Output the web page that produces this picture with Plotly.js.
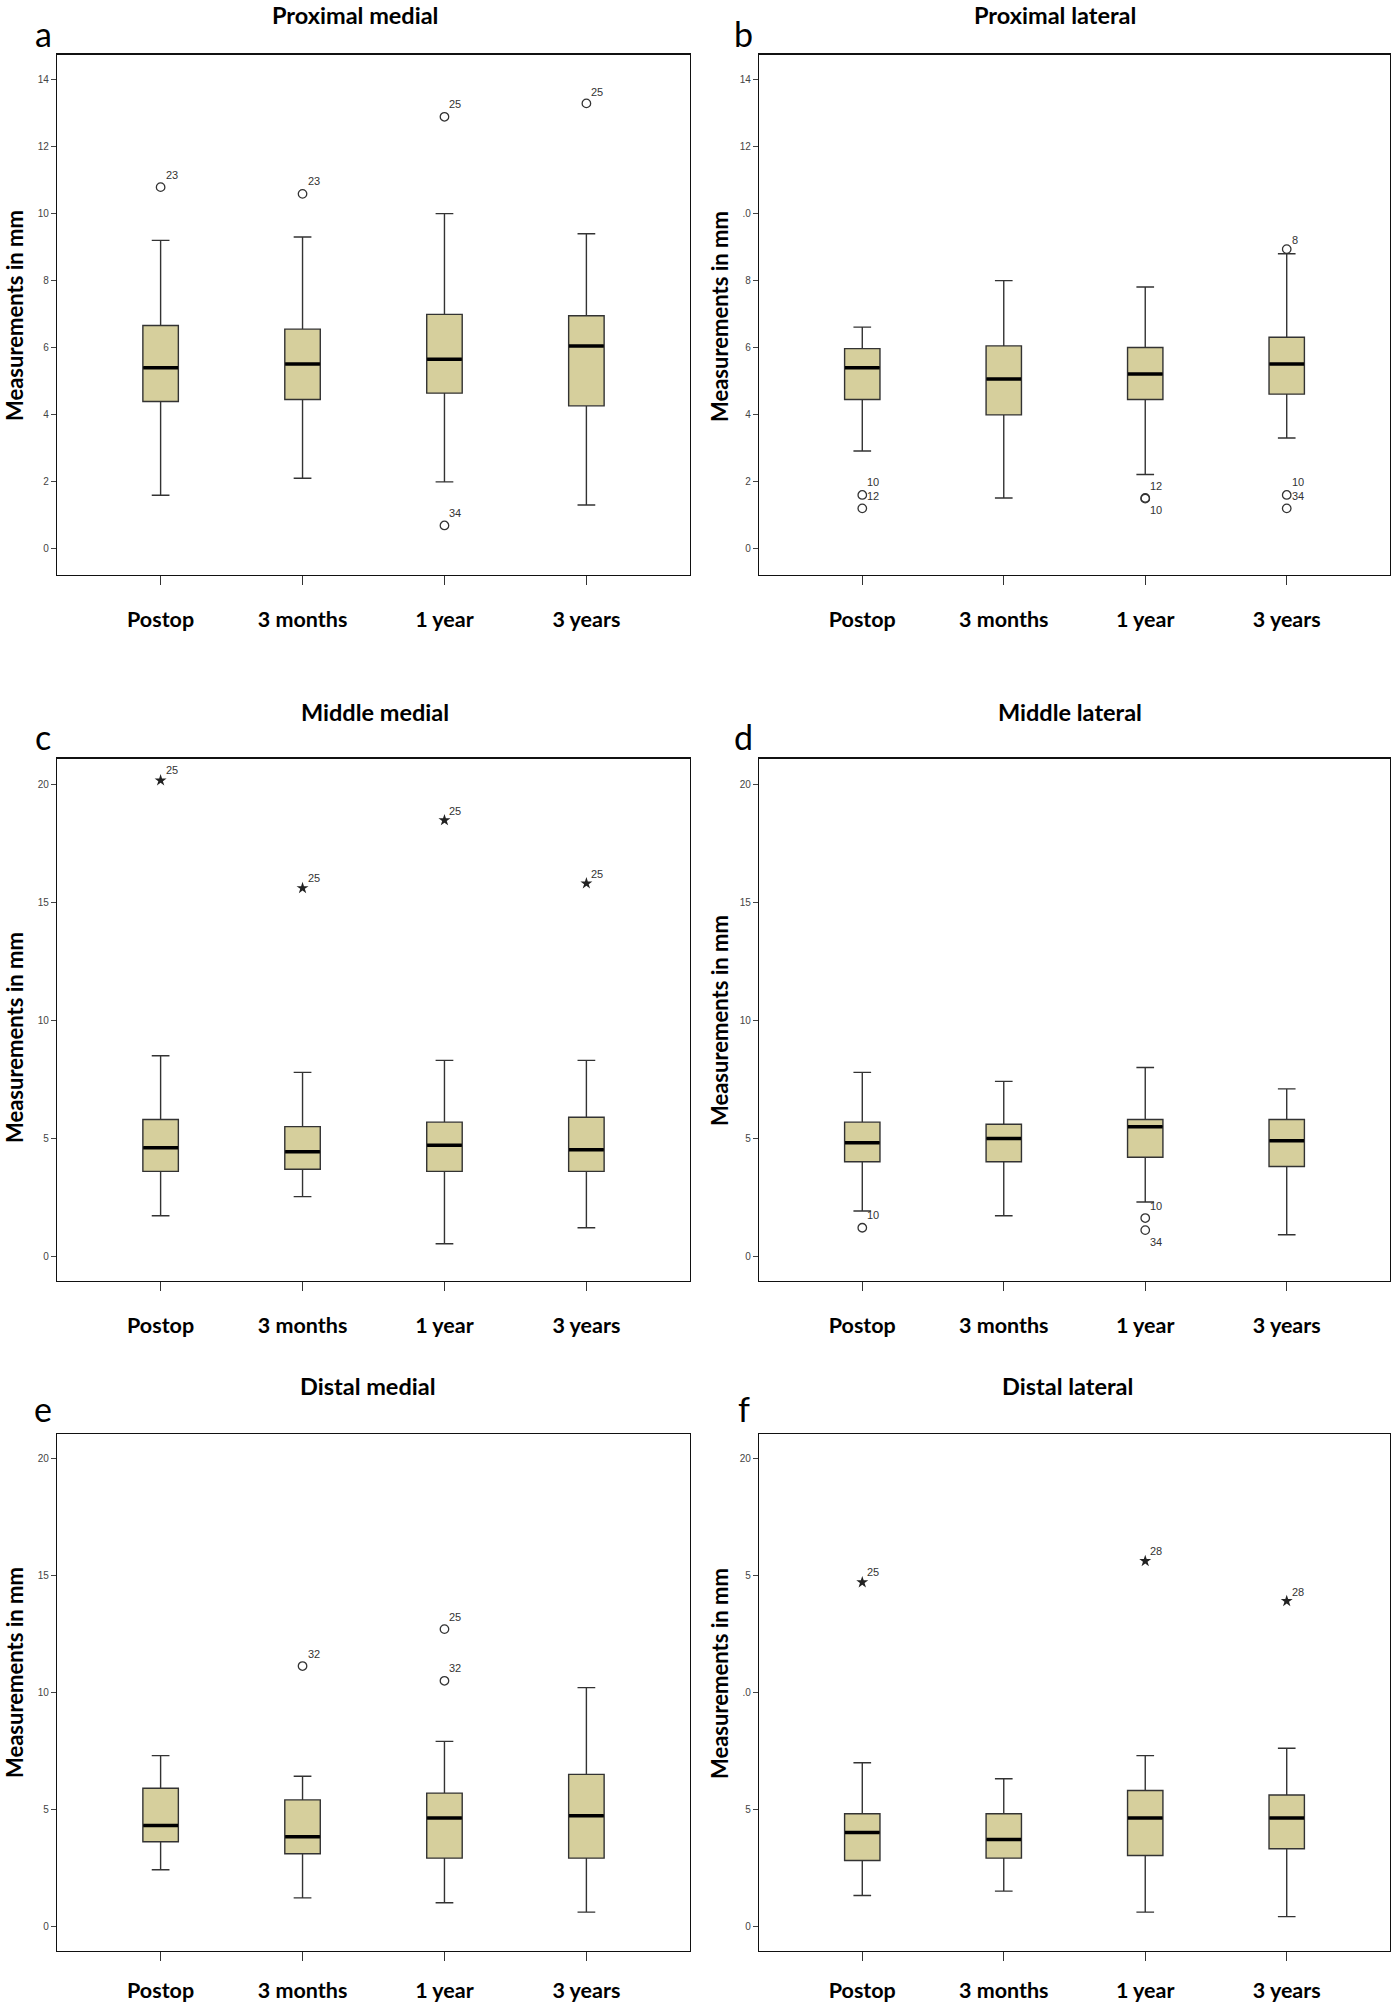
<!DOCTYPE html>
<html>
<head>
<meta charset="utf-8">
<script src="https://cdn.plot.ly/plotly-3.0.1.min.js"></script>
<style>
html,body{margin:0;padding:0;background:#fff;}
#chart{width:1392px;height:2003px;}
</style>
</head>
<body>
<div id="chart"></div>
<script>
// ---------- DATA ----------
const categories = ['Postop', '3 months', '1 year', '3 years'];

// a: Proximal medial
const aQ1 = [4.40, 4.46, 4.65, 4.27];
const aMedian = [5.41, 5.52, 5.66, 6.06];
const aQ3 = [6.67, 6.56, 7.00, 6.96];
const aLow = [1.60, 2.11, 2.00, 1.31];
const aHigh = [9.21, 9.31, 10.01, 9.41];
const aOutX = ['Postop', '3 months', '1 year', '1 year', '3 years'];
const aOutY = [10.8, 10.6, 12.9, 0.7, 13.3];
const aExtX = [];
const aExtY = [];
const aLabX = ['Postop', '3 months', '1 year', '1 year', '3 years'];
const aLabY = [11.16, 10.98, 13.27, 1.07, 13.64];
const aLabText = ['23', '23', '25', '34', '25'];

// b: Proximal lateral
const bQ1 = [4.46, 4.00, 4.46, 4.62];
const bMedian = [5.41, 5.07, 5.22, 5.52];
const bQ3 = [5.98, 6.06, 6.01, 6.32];
const bLow = [2.92, 1.52, 2.22, 3.31];
const bHigh = [6.62, 8.01, 7.82, 8.81];
const bOutX = ['Postop', 'Postop', '1 year', '1 year', '3 years', '3 years', '3 years'];
const bOutY = [1.61, 1.21, 1.52, 1.50, 8.95, 1.61, 1.21];
const bExtX = [];
const bExtY = [];
const bLabX = ['Postop', 'Postop', '1 year', '1 year', '3 years', '3 years', '3 years'];
const bLabY = [2.0, 1.59, 1.89, 1.15, 9.21, 2.0, 1.59];
const bLabText = ['10', '12', '12', '10', '8', '10', '34'];

// c: Middle medial
const cQ1 = [3.60, 3.69, 3.60, 3.60];
const cMedian = [4.60, 4.43, 4.71, 4.52];
const cQ3 = [5.80, 5.50, 5.69, 5.90];
const cLow = [1.72, 2.53, 0.53, 1.21];
const cHigh = [8.51, 7.80, 8.31, 8.31];
const cOutX = [];
const cOutY = [];
const cExtX = ['Postop', '3 months', '1 year', '3 years'];
const cExtY = [20.19, 15.62, 18.50, 15.82];
const cLabX = ['Postop', '3 months', '1 year', '3 years'];
const cLabY = [20.63, 16.03, 18.91, 16.24];
const cLabText = ['25', '25', '25', '25'];

// d: Middle lateral
const dQ1 = [4.01, 4.01, 4.20, 3.81];
const dMedian = [4.82, 5.00, 5.50, 4.90];
const dQ3 = [5.69, 5.60, 5.80, 5.80];
const dLow = [1.92, 1.72, 2.30, 0.91];
const dHigh = [7.80, 7.42, 8.01, 7.10];
const dOutX = ['Postop', '1 year', '1 year'];
const dOutY = [1.21, 1.62, 1.11];
const dExtX = [];
const dExtY = [];
const dLabX = ['Postop', '1 year', '1 year'];
const dLabY = [1.74, 2.13, 0.62];
const dLabText = ['10', '10', '34'];

// e: Distal medial
const eQ1 = [3.62, 3.11, 2.92, 2.92];
const eMedian = [4.31, 3.83, 4.63, 4.73];
const eQ3 = [5.91, 5.41, 5.70, 6.50];
const eLow = [2.42, 1.22, 1.01, 0.61];
const eHigh = [7.30, 6.42, 7.91, 10.21];
const eOutX = ['3 months', '1 year', '1 year'];
const eOutY = [11.13, 12.71, 10.50];
const eExtX = [];
const eExtY = [];
const eLabX = ['3 months', '1 year', '1 year'];
const eLabY = [11.63, 13.23, 11.04];
const eLabText = ['32', '25', '32'];

// f: Distal lateral
const fQ1 = [2.82, 2.92, 3.03, 3.32];
const fMedian = [4.02, 3.72, 4.63, 4.63];
const fQ3 = [4.82, 4.82, 5.81, 5.62];
const fLow = [1.32, 1.51, 0.61, 0.42];
const fHigh = [7.00, 6.31, 7.30, 7.62];
const fOutX = [];
const fOutY = [];
const fExtX = ['Postop', '1 year', '3 years'];
const fExtY = [14.71, 15.62, 13.91];
const fLabX = ['Postop', '1 year', '3 years'];
const fLabY = [15.15, 16.05, 14.31];
const fLabText = ['25', '28', '28'];

// tick labels (as printed on the figure)
const tickVals14 = [0, 2, 4, 6, 8, 10, 12, 14];
const tickTextA = ['0', '2', '4', '6', '8', '10', '12', '14'];
const tickTextB = ['0', '2', '4', '6', '8', '.0', '12', '14'];
const tickVals20 = [0, 5, 10, 15, 20];
const tickText20 = ['0', '5', '10', '15', '20'];
const tickTextF = ['0', '5', '.0', '5', '20'];

const panelTitles = ['Proximal medial', 'Proximal lateral', 'Middle medial', 'Middle lateral', 'Distal medial', 'Distal lateral'];
const panelLetters = ['a', 'b', 'c', 'd', 'e', 'f'];
const yTitle = 'Measurements in mm';

// ---------- LAYOUT GEOMETRY (pixels) ----------
const W = 1392, H = 2003;
const colX = [[57, 690], [759, 1390]];
const rowY = [[54.5, 575], [758.5, 1281], [1434, 1951]];
const xRange = [-0.73, 3.73];
const yRanges = [[-0.78, 14.76], [-1.05, 21.12], [-1.05, 21.05]];
const labelStandoff = [16, 16, 11];
const titlePos = [[355, 15], [1055, 15], [375, 712], [1070, 712], [368, 1386], [1067, 1386]];
const letterPos = [[43, 33], [744, 33], [43, 737], [744, 737], [43, 1408], [744, 1408]];
const yTitlePos = [[14, 316], [719, 316], [14, 1038], [719, 1020], [14, 1673], [719, 1673]];

const panels = [
  {q1: aQ1, med: aMedian, q3: aQ3, lo: aLow, hi: aHigh, ox: aOutX, oy: aOutY, ex: aExtX, ey: aExtY, lx: aLabX, ly: aLabY, lt: aLabText, tv: tickVals14, tt: tickTextA},
  {q1: bQ1, med: bMedian, q3: bQ3, lo: bLow, hi: bHigh, ox: bOutX, oy: bOutY, ex: bExtX, ey: bExtY, lx: bLabX, ly: bLabY, lt: bLabText, tv: tickVals14, tt: tickTextB},
  {q1: cQ1, med: cMedian, q3: cQ3, lo: cLow, hi: cHigh, ox: cOutX, oy: cOutY, ex: cExtX, ey: cExtY, lx: cLabX, ly: cLabY, lt: cLabText, tv: tickVals20, tt: tickText20},
  {q1: dQ1, med: dMedian, q3: dQ3, lo: dLow, hi: dHigh, ox: dOutX, oy: dOutY, ex: dExtX, ey: dExtY, lx: dLabX, ly: dLabY, lt: dLabText, tv: tickVals20, tt: tickText20},
  {q1: eQ1, med: eMedian, q3: eQ3, lo: eLow, hi: eHigh, ox: eOutX, oy: eOutY, ex: eExtX, ey: eExtY, lx: eLabX, ly: eLabY, lt: eLabText, tv: tickVals20, tt: tickText20},
  {q1: fQ1, med: fMedian, q3: fQ3, lo: fLow, hi: fHigh, ox: fOutX, oy: fOutY, ex: fExtX, ey: fExtY, lx: fLabX, ly: fLabY, lt: fLabText, tv: tickVals20, tt: tickTextF}
];

const BOX_W = 0.25;
const boxFill = '#d6cf9c';
const lineCol = '#333333';

const traces = [];
const annotations = [];
const layout = {
  width: W, height: H,
  margin: {l: 0, r: 0, t: 0, b: 0},
  paper_bgcolor: '#ffffff',
  plot_bgcolor: '#ffffff',
  showlegend: false,
  font: {family: 'Lato, "Liberation Sans", sans-serif', color: '#000'}
};

panels.forEach((p, i) => {
  const col = i % 2, row = Math.floor(i / 2);
  const n = i + 1;
  const xa = 'x' + n, ya = 'y' + n;
  const xDom = [colX[col][0] / W, colX[col][1] / W];
  const yDom = [1 - rowY[row][1] / H, 1 - rowY[row][0] / H];
  const pxPerCat = (colX[col][1] - colX[col][0]) / (xRange[1] - xRange[0]);

  traces.push({
    type: 'box', xaxis: xa, yaxis: ya,
    x: categories, q1: p.q1, median: p.med, q3: p.q3,
    lowerfence: p.lo, upperfence: p.hi,
    width: BOX_W, whiskerwidth: 0.5,
    boxpoints: false,
    fillcolor: boxFill,
    line: {color: lineCol, width: 1.4},
    hoverinfo: 'skip'
  });
  // thick median bar
  traces.push({
    type: 'scatter', mode: 'markers', xaxis: xa, yaxis: ya,
    x: categories, y: p.med,
    marker: {symbol: 'line-ew', size: BOX_W * pxPerCat / 1.4 - 0.5, line: {color: '#000', width: 3.5}},
    hoverinfo: 'skip'
  });
  if (p.ox.length) {
    traces.push({
      type: 'scatter', mode: 'markers', xaxis: xa, yaxis: ya,
      x: p.ox, y: p.oy,
      marker: {symbol: 'circle-open', size: 8.5, color: '#333', line: {color: '#333', width: 1.3}},
      hoverinfo: 'skip'
    });
  }
  if (p.ex.length) {
    traces.push({
      type: 'scatter', mode: 'markers', xaxis: xa, yaxis: ya,
      x: p.ex, y: p.ey,
      marker: {symbol: 'star', size: 9, color: '#222', line: {width: 0}},
      hoverinfo: 'skip'
    });
  }
  p.lx.forEach((cx, k) => {
    annotations.push({
      xref: xa, yref: ya, x: cx, y: p.ly[k], text: p.lt[k],
      showarrow: false, xanchor: 'left', yanchor: 'middle', xshift: 3,
      font: {family: '"Liberation Sans", sans-serif', size: 11, color: '#333'}
    });
  });

  layout['xaxis' + (n === 1 ? '' : n)] = {
    domain: xDom, anchor: ya, type: 'category',
    categoryorder: 'array', categoryarray: categories,
    range: xRange, showgrid: false, zeroline: false,
    showline: true, mirror: true, linecolor: '#111', linewidth: 1.2,
    ticks: 'outside', ticklen: 9, tickwidth: 1.2, tickcolor: '#333',
    ticklabelstandoff: labelStandoff[row],
    tickfont: {family: 'Lato, "Liberation Sans", sans-serif', size: 21.5, color: '#000', weight: 'bold'},
    fixedrange: true
  };
  layout['yaxis' + (n === 1 ? '' : n)] = {
    domain: yDom, anchor: xa, range: yRanges[row],
    showgrid: false, zeroline: false,
    showline: true, mirror: true, linecolor: '#111', linewidth: 1.2,
    ticks: 'outside', ticklen: 5, tickwidth: 1, tickcolor: '#444',
    tickmode: 'array', tickvals: p.tv, ticktext: p.tt,
    tickfont: {family: '"Liberation Sans", sans-serif', size: 10, color: '#444'},
    fixedrange: true
  };

  annotations.push({
    xref: 'paper', yref: 'paper', x: titlePos[i][0] / W, y: 1 - titlePos[i][1] / H,
    text: '<b>' + panelTitles[i] + '</b>', showarrow: false,
    xanchor: 'center', yanchor: 'middle',
    font: {family: 'Lato, sans-serif', size: 23.5, color: '#000'}
  });
  annotations.push({
    xref: 'paper', yref: 'paper', x: letterPos[i][0] / W, y: 1 - letterPos[i][1] / H,
    text: panelLetters[i], showarrow: false,
    xanchor: 'center', yanchor: 'middle',
    font: {family: 'Lato, sans-serif', size: 34, color: '#000'}
  });
  annotations.push({
    xref: 'paper', yref: 'paper', x: yTitlePos[i][0] / W, y: 1 - yTitlePos[i][1] / H,
    text: '<b>' + yTitle + '</b>', showarrow: false, textangle: -90,
    xanchor: 'center', yanchor: 'middle',
    font: {family: 'Lato, sans-serif', size: 22, color: '#000'}
  });
});

layout.annotations = annotations;

Plotly.newPlot('chart', traces, layout, {staticPlot: true, displayModeBar: false});
</script>
</body>
</html>
